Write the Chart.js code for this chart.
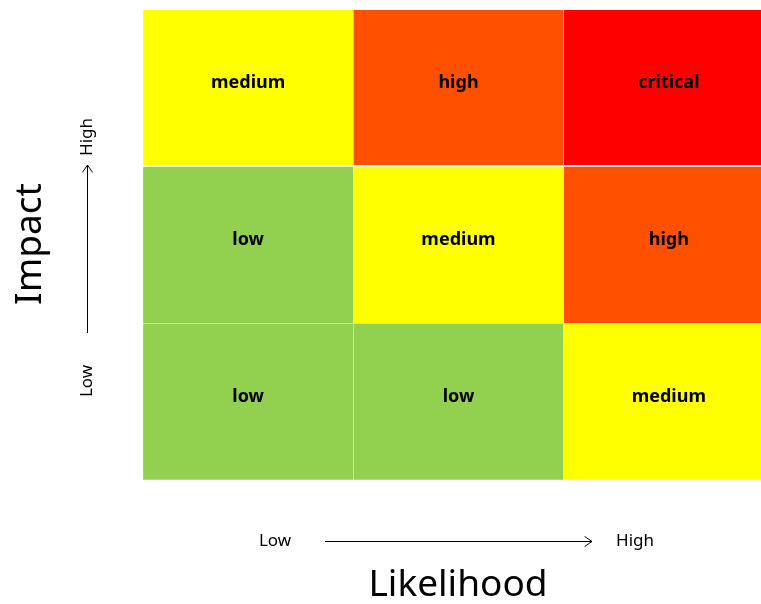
<!DOCTYPE html>
<html>
<head>
<meta charset="utf-8">
<script src="https://cdn.jsdelivr.net/npm/chart.js@4"></script>
<style>
  html, body { margin: 0; padding: 0; background: #fff; overflow: hidden; }
  #wrap { width: 775px; height: 604px; }
</style>
</head>
<body>
<div id="wrap"><canvas id="chart-riesgo" width="775" height="604"></canvas></div>
<script>
// columnas = likelihood, filas = impact (de abajo hacia arriba)
const likelihood = ['Low', 'Medium', 'High']
const impactLow = ['low', 'low', 'medium']
const impactMedium = ['low', 'medium', 'high']
const impactHigh = ['medium', 'high', 'critical']
const cellSize = [1, 1, 1]

const colores = {
  low: '#92D050',
  medium: '#FFFF00',
  high: '#FF5000',
  critical: '#FF0000'
}

const filas = [impactLow, impactMedium, impactHigh]

const datasets = filas.map((fila, i) => ({
  label: ['Low', 'Medium', 'High'][i],
  data: cellSize,
  niveles: fila,
  backgroundColor: fila.map(n => colores[n]),
  borderColor: '#ffffff',
  borderSkipped: false,
  borderWidth: i === 2 ? { top: 0, bottom: 2, left: 0.5, right: 0.5 } : { top: 0.5, bottom: 0.5, left: 0.5, right: 0.5 },
  barPercentage: 1,
  categoryPercentage: 1
}))

const etiquetasCeldas = {
  id: 'etiquetasCeldas',
  afterDatasetsDraw(chart) {
    const { ctx } = chart
    ctx.save()
    ctx.fillStyle = '#000'
    ctx.font = 'bold 18px "Noto Sans"'
    ctx.textAlign = 'center'
    ctx.textBaseline = 'alphabetic'
    chart.data.datasets.forEach((ds, i) => {
      const meta = chart.getDatasetMeta(i)
      meta.data.forEach((el, j) => {
        const yc = (el.y + el.base) / 2
        ctx.fillText(ds.niveles[j], el.x, yc)
      })
    })
    ctx.restore()
  }
}

function flecha(ctx, x1, y1, x2, y2) {
  const ang = Math.atan2(y2 - y1, x2 - x1)
  const l = 9
  ctx.beginPath()
  ctx.moveTo(x1, y1)
  ctx.lineTo(x2, y2)
  ctx.moveTo(x2 - l * Math.cos(ang - 0.6), y2 - l * Math.sin(ang - 0.6))
  ctx.lineTo(x2, y2)
  ctx.lineTo(x2 - l * Math.cos(ang + 0.6), y2 - l * Math.sin(ang + 0.6))
  ctx.stroke()
}

const ejes = {
  id: 'ejes',
  afterDraw(chart) {
    const { ctx } = chart
    ctx.save()
    ctx.fillStyle = '#000'
    ctx.strokeStyle = '#000'
    ctx.lineWidth = 1
    ctx.textAlign = 'center'
    ctx.textBaseline = 'middle'

    // eje horizontal
    ctx.font = '17px "Noto Sans"'
    ctx.fillText('Low', 275, 541)
    ctx.fillText('High', 635, 541)
    flecha(ctx, 325, 541.5, 592, 541.5)
    ctx.font = '37px "Noto Sans"'
    ctx.fillText('Likelihood', 458, 585)

    // eje vertical
    flecha(ctx, 87.5, 333, 87.5, 165)
    ctx.save()
    ctx.translate(87, 381)
    ctx.rotate(-Math.PI / 2)
    ctx.font = '17px "Noto Sans"'
    ctx.fillText('Low', 0, 0)
    ctx.restore()
    ctx.save()
    ctx.translate(87, 137)
    ctx.rotate(-Math.PI / 2)
    ctx.font = '17px "Noto Sans"'
    ctx.fillText('High', 0, 0)
    ctx.restore()
    ctx.save()
    ctx.translate(30, 244)
    ctx.rotate(-Math.PI / 2)
    ctx.font = '37px "Noto Sans"'
    ctx.fillText('Impact', 0, 0)
    ctx.restore()

    ctx.restore()
  }
}

const ctx = document.getElementById('chart-riesgo').getContext('2d')

new Chart(ctx, {
  type: 'bar',
  data: {
    labels: likelihood,
    datasets
  },
  options: {
    responsive: false,
    animation: false,
    layout: {
      padding: { left: 143, right: 1, top: 10, bottom: 124 }
    },
    plugins: {
      legend: { display: false },
      tooltip: { enabled: false }
    },
    scales: {
      x: { stacked: true, display: false },
      y: { stacked: true, display: false, min: 0, max: 3 }
    }
  },
  plugins: [etiquetasCeldas, ejes]
})
</script>
</body>
</html>
